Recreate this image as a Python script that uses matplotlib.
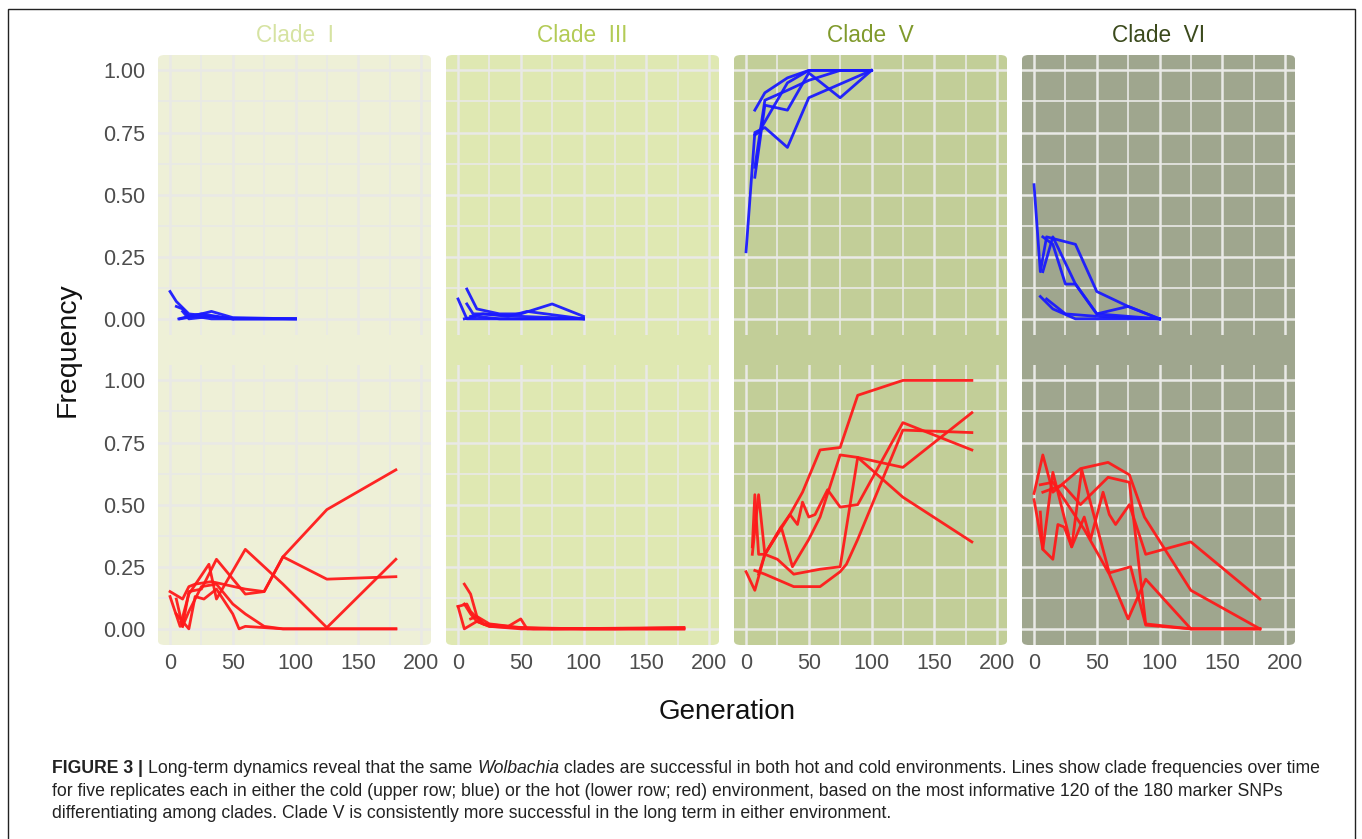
import matplotlib
matplotlib.use("Agg")
import matplotlib.pyplot as plt
from matplotlib.patches import FancyBboxPatch, Rectangle
from matplotlib import font_manager

# clade names, panel colours
clades = ["Clade  I", "Clade  III", "Clade  V", "Clade  VI"]
panel_bg = ["#eef0d7", "#dfe8b2", "#c2ce98", "#9fa68e"]
title_col = ["#d6e3a2", "#b3cb56", "#809a2c", "#3b4a1c"]

# cold environment (upper row, blue): 5 replicates per clade, (generation, frequency)
cold = {
    "Clade  I": [
        ([0, 5, 15, 33, 50, 100], [0.11, 0.07, 0.02, 0.01, 0.0, 0.0]),
        ([5, 10, 15, 25, 33, 50, 100], [0.05, 0.04, 0.01, 0.02, 0.03, 0.005, 0.0]),
        ([7, 15, 25, 50, 100], [0.0, 0.01, 0.02, 0.0, 0.0]),
        ([10, 15, 33, 50], [0.03, 0.0, 0.01, 0.0]),
        ([8, 20, 33, 50, 100], [0.0, 0.01, 0.0, 0.0, 0.0]),
    ],
    "Clade  III": [
        ([0, 7, 25, 50, 100], [0.08, 0.0, 0.0, 0.0, 0.0]),
        ([7, 15, 33, 50, 75, 100], [0.12, 0.04, 0.02, 0.02, 0.06, 0.01]),
        ([7, 12, 20, 50, 100], [0.06, 0.02, 0.02, 0.01, 0.0]),
        ([10, 20, 40, 55, 100], [0.01, 0.02, 0.01, 0.03, 0.0]),
        ([5, 15, 33, 75, 100], [0.0, 0.01, 0.0, 0.0, 0.0]),
    ],
    "Clade  V": [
        ([0, 7, 15, 33, 50, 100], [0.27, 0.75, 0.77, 0.69, 0.89, 1.0]),
        ([7, 15, 33, 50, 75, 100], [0.57, 0.86, 0.84, 0.99, 0.89, 1.0]),
        ([7, 15, 33, 50, 100], [0.84, 0.91, 0.97, 1.0, 1.0]),
        ([7, 15, 33, 50, 75, 100], [0.61, 0.88, 0.92, 0.96, 1.0, 1.0]),
        ([7, 10, 33, 50, 75, 100], [0.74, 0.75, 0.95, 1.0, 1.0, 1.0]),
    ],
    "Clade  VI": [
        ([0, 5, 10, 33, 50, 75, 100], [0.54, 0.19, 0.33, 0.30, 0.11, 0.05, 0.0]),
        ([7, 15, 25, 33, 50, 100], [0.33, 0.30, 0.14, 0.14, 0.02, 0.0]),
        ([7, 15, 33, 50, 75, 100], [0.19, 0.33, 0.14, 0.02, 0.05, 0.0]),
        ([5, 15, 33, 50, 100], [0.09, 0.04, 0.0, 0.0, 0.0]),
        ([10, 15, 25, 50, 100], [0.08, 0.06, 0.02, 0.01, 0.0]),
    ],
}

# hot environment (lower row, red)
hot = {
    "Clade  I": [
        ([0, 10, 15, 20, 33, 60, 75, 90, 125, 180], [0.15, 0.12, 0.17, 0.18, 0.19, 0.16, 0.15, 0.29, 0.48, 0.64]),
        ([5, 10, 15, 25, 37, 60, 75, 90, 125, 180], [0.12, 0.01, 0.15, 0.16, 0.28, 0.14, 0.15, 0.29, 0.20, 0.21]),
        ([0, 8, 15, 31, 37, 60, 75, 90, 125, 180], [0.13, 0.01, 0.14, 0.26, 0.12, 0.32, 0.25, 0.18, 0.005, 0.28]),
        ([5, 15, 20, 27, 37, 50, 55, 60, 90, 180], [0.06, 0.0, 0.13, 0.12, 0.16, 0.06, 0.0, 0.01, 0.0, 0.0]),
        ([10, 15, 25, 37, 50, 60, 75, 90, 180], [0.01, 0.07, 0.17, 0.18, 0.10, 0.06, 0.01, 0.0, 0.0]),
    ],
    "Clade  III": [
        ([5, 10, 15, 25, 50, 100, 180], [0.18, 0.14, 0.05, 0.02, 0.005, 0.0, 0.0]),
        ([0, 7, 10, 20, 40, 50, 55, 180], [0.09, 0.10, 0.07, 0.02, 0.01, 0.04, 0.0, 0.0]),
        ([0, 5, 15, 25, 50, 100, 180], [0.09, 0.0, 0.03, 0.01, 0.0, 0.0, 0.0]),
        ([5, 10, 15, 25, 75, 180], [0.10, 0.06, 0.03, 0.01, 0.0, 0.005]),
        ([10, 15, 20, 33, 60, 125, 180], [0.04, 0.05, 0.02, 0.01, 0.0, 0.0, 0.005]),
    ],
    "Clade  V": [
        ([0, 7, 15, 25, 35, 45, 59, 75, 89, 125, 180], [0.23, 0.155, 0.30, 0.38, 0.46, 0.55, 0.72, 0.73, 0.94, 1.0, 1.0]),
        ([5, 7, 10, 15, 25, 38, 59, 75, 89, 125, 180], [0.33, 0.54, 0.30, 0.30, 0.28, 0.22, 0.24, 0.25, 0.69, 0.65, 0.87]),
        ([7, 15, 38, 59, 75, 80, 89, 125, 180], [0.235, 0.22, 0.17, 0.17, 0.23, 0.26, 0.36, 0.80, 0.79]),
        ([5, 10, 15, 28, 37, 50, 59, 75, 89, 125, 180], [0.30, 0.54, 0.30, 0.41, 0.25, 0.36, 0.45, 0.70, 0.69, 0.53, 0.35]),
        ([10, 15, 28, 35, 41, 45, 50, 55, 65, 75, 89, 125, 180], [0.22, 0.30, 0.41, 0.46, 0.42, 0.51, 0.45, 0.46, 0.56, 0.49, 0.50, 0.83, 0.72]),
    ],
    "Clade  VI": [
        ([0, 7, 15, 37, 59, 76, 88, 125, 180], [0.545, 0.70, 0.55, 0.645, 0.67, 0.62, 0.45, 0.155, 0.0]),
        ([0, 7, 15, 30, 38, 60, 77, 89, 125, 180], [0.52, 0.32, 0.63, 0.33, 0.64, 0.225, 0.25, 0.015, 0.0, 0.0]),
        ([5, 7, 15, 19, 24, 30, 40, 45, 55, 60, 65, 76, 89, 125, 180],
         [0.47, 0.32, 0.28, 0.42, 0.41, 0.33, 0.45, 0.36, 0.55, 0.46, 0.42, 0.50, 0.30, 0.35, 0.12]),
        ([7, 23, 37, 59, 76, 89, 125, 180], [0.55, 0.58, 0.50, 0.61, 0.59, 0.02, 0.0, 0.0]),
        ([5, 15, 40, 60, 75, 89, 125, 180], [0.58, 0.59, 0.40, 0.22, 0.04, 0.20, 0.0, 0.0]),
    ],
}

xticks = [0, 50, 100, 150, 200]
yticks = [0.0, 0.25, 0.5, 0.75, 1.0]
ytick_labels = ["0.00", "0.25", "0.50", "0.75", "1.00"]

caption_lines = [
    [("FIGURE 3 | ", "bold"), ("Long-term dynamics reveal that the same ", "normal"), ("Wolbachia", "italic"),
     (" clades are successful in both hot and cold environments. Lines show clade frequencies over time", "normal")],
    [("for five replicates each in either the cold (upper row; blue) or the hot (lower row; red) environment, "
      "based on the most informative 120 of the 180 marker SNPs", "normal")],
    [("differentiating among clades. Clade V is consistently more successful in the long term in either environment.", "normal")],
]

W, H = 1362, 839
fig = plt.figure(figsize=(W / 100, H / 100), dpi=100)

avail = {f.name for f in font_manager.fontManager.ttflist}
main_font = "Liberation Sans" if "Liberation Sans" in avail else "DejaVu Sans"
cap_font = "Liberation Sans Narrow" if "Liberation Sans Narrow" in avail else main_font
plt.rcParams["font.family"] = main_font


def fx(px):
    return px / W


def fy(py):
    return 1 - py / H


# frame round the whole figure
fig.patches.append(Rectangle((fx(8), fy(845)), fx(1355) - fx(8), fy(9) - fy(845),
                             transform=fig.transFigure, fill=False, ec="#222222", lw=1.0, zorder=-1))

col_left = [158, 446, 734, 1022]
col_w = 273
rows = [(55, 335), (365, 645)]
xlim = (-9.6, 208)
ylim = (-0.065, 1.062)

for ci, clade in enumerate(clades):
    left = col_left[ci]
    # rounded panel background covering both rows
    bg = FancyBboxPatch((fx(left), fy(645)), fx(col_w), fy(55) - fy(645),
                        boxstyle="round,pad=0,rounding_size=0.005",
                        transform=fig.transFigure, fc=panel_bg[ci], ec="none", zorder=-1)
    fig.patches.append(bg)
    fig.text(fx(left + col_w / 2), fy(36), clade, color=title_col[ci],
             fontsize=16.3, ha="center", va="center")

    for ri, (top, bot) in enumerate(rows):
        ax = fig.add_axes([fx(left), fy(bot), fx(col_w), fy(top) - fy(bot)])
        ax.set_facecolor("none")
        for s in ax.spines.values():
            s.set_visible(False)
        ax.set_xlim(*xlim)
        ax.set_ylim(*ylim)
        ax.set_xticks(xticks)
        ax.set_xticks([25, 75, 125, 175], minor=True)
        ax.set_yticks(yticks)
        ax.set_yticks([0.125, 0.375, 0.625, 0.875], minor=True)
        ax.grid(True, which="major", color="#e9e9e6", lw=1.8)
        ax.grid(True, which="minor", color="#e9e9e6", lw=1.2)
        ax.set_axisbelow(True)
        ax.tick_params(which="both", length=0, labelsize=15.5, labelcolor="#4d4d4d")
        if ci == 0:
            ax.set_yticklabels(ytick_labels)
            ax.tick_params(axis="y", pad=9)
        else:
            ax.set_yticklabels([])
        if ri == 1:
            ax.set_xticklabels([str(t) for t in xticks])
            ax.tick_params(axis="x", pad=6)
        else:
            ax.set_xticklabels([])

        series = cold[clade] if ri == 0 else hot[clade]
        colour = "#1a1aff" if ri == 0 else "#ff1a1a"
        for xs, ys in series:
            ax.plot(xs, ys, color=colour, lw=2.0, alpha=0.95)

fig.text(fx(68), fy(350), "Frequency", rotation=90, fontsize=20.5, ha="center", va="center", color="#111111")
fig.text(fx(727), fy(712), "Generation", fontsize=20, ha="center", va="center", color="#111111")

# caption with mixed styles, drawn piece by piece
fig.canvas.draw()
renderer = fig.canvas.get_renderer()
line_y = [773, 796, 818]
for li, pieces in enumerate(caption_lines):
    x = fx(52)
    for txt, style in pieces:
        kw = dict(fontsize=12.7, family=cap_font, color="#222222", va="baseline", ha="left")
        if style == "bold":
            kw["weight"] = "bold"
        if style == "italic":
            kw["style"] = "italic"
        t = fig.text(x, fy(line_y[li]), txt, **kw)
        bb = t.get_window_extent(renderer)
        x += bb.width / W

fig.savefig("out.png", dpi=100)
